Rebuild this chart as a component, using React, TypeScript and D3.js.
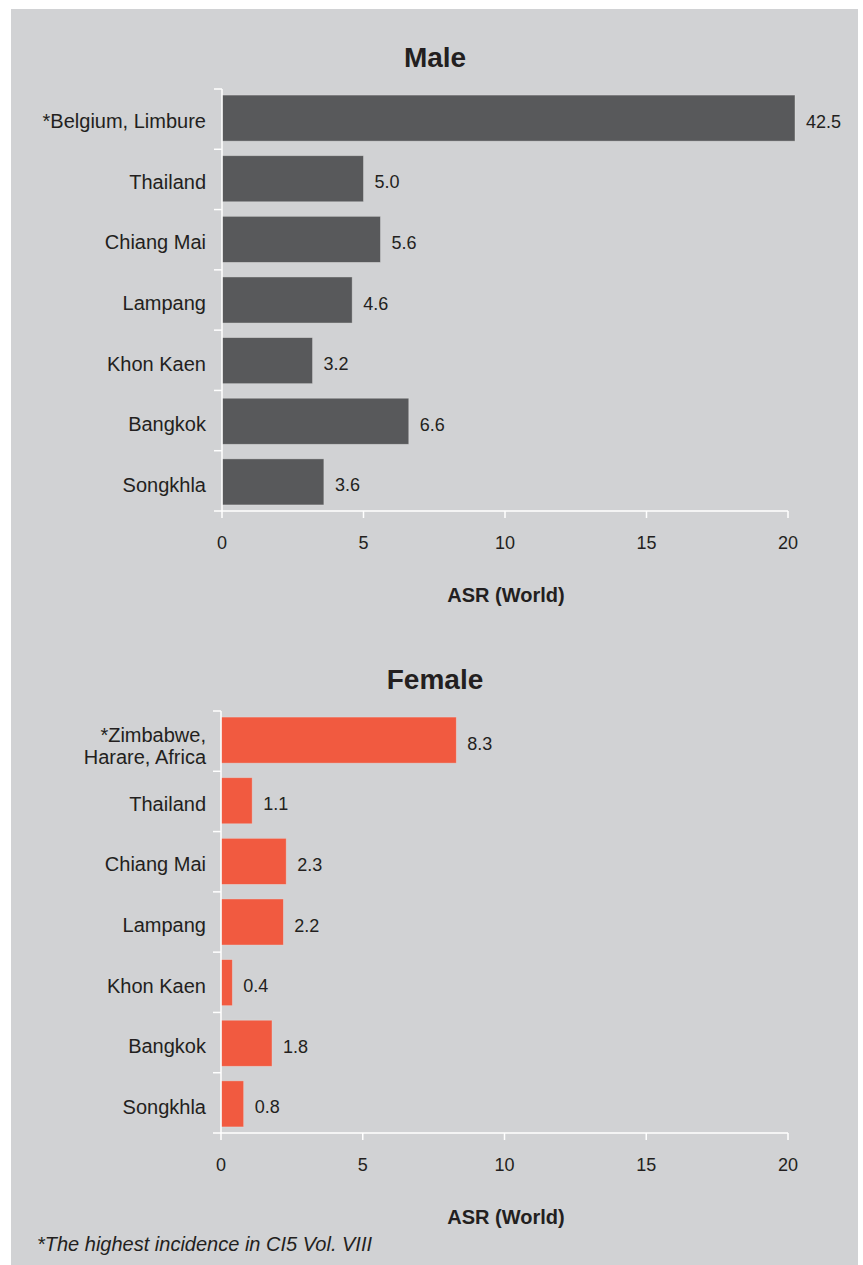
import React from "react";
import * as d3 from "d3";

const categoriesMale = ["*Belgium, Limbure", "Thailand", "Chiang Mai", "Lampang", "Khon Kaen", "Bangkok", "Songkhla"];
const valuesMale = [42.5, 5.0, 5.6, 4.6, 3.2, 6.6, 3.6];
const categoriesFemale = ["*Zimbabwe,\nHarare, Africa", "Thailand", "Chiang Mai", "Lampang", "Khon Kaen", "Bangkok", "Songkhla"];
const valuesFemale = [8.3, 1.1, 2.3, 2.2, 0.4, 1.8, 0.8];
const xTicks = [0, 5, 10, 15, 20];
const axisTitle = "ASR (World)";
const footnote = "*The highest incidence in CI5 Vol. VIII";

const FONT = "'Liberation Sans', Arial, Helvetica, sans-serif";
const TEXT = "#231f20";

type PanelProps = {
  title: string;
  cats: string[];
  vals: number[];
  color: string;
  top: number;
  titleY: number;
  x0: number;
  x1: number;
};

function Panel({ title, cats, vals, color, top, titleY, x0, x1 }: PanelProps) {
  const bottom = top + 422;
  const x = d3.scaleLinear().domain([0, 20]).range([x0, x1]);
  const y = d3.scaleBand<string>().domain(cats).range([top, bottom]).paddingInner(0.24).paddingOuter(0.1);
  const yb = d3.scaleBand<string>().domain(cats).range([top, bottom]);
  const maxX = x1 + 7;
  return (
    <g>
      <text x={435} y={titleY} textAnchor="middle" fontFamily={FONT} fontWeight="bold" fontSize={28} fill={TEXT}>
        {title}
      </text>
      {cats.map((c, i) => {
        const bx = x(0);
        const w = Math.min(x(vals[i]), maxX) - bx;
        const by = y(c)!;
        const lines = c.split("\n");
        const cy = by + y.bandwidth() / 2;
        return (
          <g key={c}>
            <rect x={bx} y={by} width={w} height={y.bandwidth()} fill={color} stroke="#e6e6e6" strokeOpacity={0.5} strokeWidth={0.8} />
            <text x={bx + w + 11} y={cy + 9.5} fontFamily={FONT} fontSize={18} fill={TEXT}>
              {vals[i].toFixed(1)}
            </text>
            {lines.map((ln, k) => (
              <text
                key={k}
                x={206}
                y={lines.length > 1 ? cy + 2 + k * 21.5 : cy + 10}
                textAnchor="end"
                fontFamily={FONT}
                fontSize={20}
                fill={TEXT}
              >
                {ln}
              </text>
            ))}
          </g>
        );
      })}
      <line x1={x0} x2={x0} y1={top} y2={bottom} stroke="#fff" strokeWidth={1.5} />
      {cats.map((c, i) => (
        <line key={"t" + i} x1={x0 - 8} x2={x0} y1={yb(c)!} y2={yb(c)!} stroke="#fff" strokeWidth={1.5} />
      ))}
      <line x1={x0 - 8} x2={x1} y1={bottom} y2={bottom} stroke="#fff" strokeWidth={1.5} />
      {xTicks.map((t) => (
        <g key={t}>
          <line x1={x(t)} x2={x(t)} y1={bottom} y2={bottom + 7} stroke="#fff" strokeWidth={1.5} />
          <text x={x(t)} y={bottom + 38} textAnchor="middle" fontFamily={FONT} fontSize={18} fill={TEXT}>
            {t}
          </text>
        </g>
      ))}
      <text x={506} y={bottom + 91} textAnchor="middle" fontFamily={FONT} fontWeight="bold" fontSize={20} fill={TEXT}>
        {axisTitle}
      </text>
    </g>
  );
}

export default function App() {
  return (
    <svg width={863} height={1265} style={{ position: "absolute", left: 0, top: 0, display: "block" }}>
      <rect x={0} y={0} width={863} height={1265} fill="#fff" />
      <rect x={11} y={9} width={847} height={1256} fill="#d1d2d4" />
      <Panel title="Male" cats={categoriesMale} vals={valuesMale} color="#58595b" top={89} titleY={67} x0={222} x1={788} />
      <Panel title="Female" cats={categoriesFemale} vals={valuesFemale} color="#f15a40" top={711} titleY={689} x0={221} x1={788} />
      <text x={37} y={1251} fontFamily={FONT} fontStyle="italic" fontSize={20} fill={TEXT}>
        {footnote}
      </text>
    </svg>
  );
}
